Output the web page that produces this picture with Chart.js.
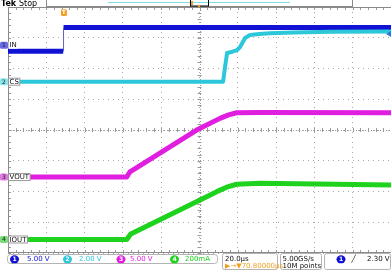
<!DOCTYPE html>
<html>
<head>
<meta charset="utf-8">
<script src="https://cdn.jsdelivr.net/npm/chart.js@4.4.1/dist/chart.umd.min.js"></script>
<style>
  html, body { margin: 0; padding: 0; background: #fff; overflow: hidden; }
</style>
</head>
<body>
<canvas id="scope" width="391" height="271"></canvas>
<script>
// -------- Timebase (µs relative to trigger, 20 µs/div, 10 div) --------
const xMin = -29.2;
const usPerDiv = 20;
const xDivs = 10;
const yDivs = 8;

// -------- Channels --------
const chNames = ['IN', 'CS', 'VOUT', 'IOUT'];
const chColors = ['#1212d4', '#2cc8da', '#e01ee0', '#1ed21e'];
const chScale = [5, 2, 5, 200];          // units per div
const chPos = [2.76, 1.57, -1.53, -3.56]; // ground marker, div from centre
const chReadout = ['5.00 V', '2.00 V', '5.00 V', '200mA'];

// CH1 IN (V)
const inTime = [-29.2, -0.4, -0.2, 170.8];
const inVal = [-1.0, -1.0, 2.85, 2.85];

// CH2 CS (V)
const csTime = [-26.0, 83.1, 84.2, 85.2, 88.0, 90.4, 92.0, 93.5, 94.6, 97.2, 102.0, 107.6, 120.0, 139.0, 170.8];
const csVal = [0, 0, 1.0, 1.87, 1.95, 2.06, 2.26, 2.6, 2.84, 3.04, 3.1, 3.15, 3.2, 3.25, 3.27];

// CH3 VOUT (V)
const voutTime = [-22.0, 32.8, 34.5, 69.3, 81.5, 86.0, 90.2, 102.4, 170.8];
const voutVal = [0, 0, 0.86, 7.64, 9.54, 10.1, 10.45, 10.5, 10.45];

// CH4 IOUT (mA)
const ioutTime = [-22.0, 32.8, 34.9, 71.1, 79.8, 85.0, 90.2, 102.4, 170.8];
const ioutVal = [0, 0, 36, 257, 311, 340, 359, 365, 354];

// -------- Helpers --------
function toDiv(ch, times, vals) {
  return times.map((t, i) => ({ x: t, y: chPos[ch] + vals[i] / chScale[ch] }));
}

const inPts = toDiv(0, inTime, inVal);
const inBand = [inPts[0], inPts[1], { x: inPts[1].x, y: null }, inPts[2], inPts[3]];
const inEdge = [inPts[1], inPts[2]];

const font = '"DejaVu Sans", sans-serif';

function roundRect(ctx, x, y, w, h, r) {
  ctx.beginPath();
  ctx.moveTo(x + r, y);
  ctx.lineTo(x + w - r, y);
  ctx.quadraticCurveTo(x + w, y, x + w, y + r);
  ctx.lineTo(x + w, y + h - r);
  ctx.quadraticCurveTo(x + w, y + h, x + w - r, y + h);
  ctx.lineTo(x + r, y + h);
  ctx.quadraticCurveTo(x, y + h, x, y + h - r);
  ctx.lineTo(x, y + r);
  ctx.quadraticCurveTo(x, y, x + r, y);
  ctx.closePath();
}

// -------- Scope chrome plugin --------
const scopeChrome = {
  id: 'scopeChrome',
  beforeDatasetsDraw(chart) {
    const { ctx, chartArea: a, scales } = chart;
    const cx = scales.x.getPixelForValue(xMin + usPerDiv * xDivs / 2);
    const cy = scales.y.getPixelForValue(0);
    ctx.save();
    ctx.strokeStyle = '#9a9a9a';
    ctx.lineWidth = 1;
    // centre cross with minor ticks
    ctx.setLineDash([1, 2]);
    ctx.beginPath();
    ctx.moveTo(a.left, Math.round(cy) + 0.5); ctx.lineTo(a.right, Math.round(cy) + 0.5);
    ctx.moveTo(Math.round(cx) + 0.5, a.top); ctx.lineTo(Math.round(cx) + 0.5, a.bottom);
    ctx.stroke();
    ctx.setLineDash([]);
    ctx.beginPath();
    for (let i = 0; i <= xDivs * 5; i++) {
      const px = Math.round(scales.x.getPixelForValue(xMin + i * usPerDiv / 5)) + 0.5;
      ctx.moveTo(px, cy - 2); ctx.lineTo(px, cy + 2);
      ctx.moveTo(px, a.top); ctx.lineTo(px, a.top + 3);
      ctx.moveTo(px, a.bottom); ctx.lineTo(px, a.bottom - 3);
    }
    for (let j = 0; j <= yDivs * 5; j++) {
      const py = Math.round(scales.y.getPixelForValue(-4 + j / 5)) + 0.5;
      ctx.moveTo(cx - 2, py); ctx.lineTo(cx + 2, py);
      ctx.moveTo(a.left, py); ctx.lineTo(a.left + 3, py);
    }
    ctx.stroke();
    // frame
    ctx.strokeStyle = '#8a8a8a';
    ctx.beginPath();
    ctx.moveTo(a.right, a.top + 0.5); ctx.lineTo(a.left + 0.5, a.top + 0.5);
    ctx.lineTo(a.left + 0.5, a.bottom - 0.5); ctx.lineTo(a.right, a.bottom - 0.5);
    ctx.stroke();
    ctx.restore();
  },
  afterDatasetsDraw(chart) {
    const { ctx, chartArea: a, scales } = chart;
    ctx.save();
    ctx.textBaseline = 'middle';

    // header
    ctx.fillStyle = '#000';
    ctx.font = 'bold 8px ' + font;
    ctx.fillText('Tek', 1, 3.5);
    ctx.font = '8px ' + font;
    ctx.fillText('Stop', 19, 3.5);
    ctx.strokeStyle = '#8a8a8a';
    ctx.lineWidth = 1;
    ctx.strokeRect(46.5, -0.5, 306, 7);
    ctx.strokeStyle = '#7fe0e8';
    ctx.beginPath(); ctx.moveTo(108, 2.5); ctx.lineTo(290, 2.5); ctx.stroke();
    ctx.strokeStyle = '#000';
    ctx.strokeRect(190.5, -0.5, 18, 6.5);
    ctx.fillStyle = '#f0a020';
    ctx.fillRect(191, 1, 2, 4);
    ctx.fillRect(198, 5, 2, 2);

    // trigger position marker
    const tx = scales.x.getPixelForValue(0);
    ctx.fillStyle = '#f2a024';
    roundRect(ctx, tx - 3, 9, 6, 7, 1.5); ctx.fill();
    ctx.fillStyle = '#fff';
    ctx.font = 'bold 6px ' + font;
    ctx.textAlign = 'center';
    ctx.fillText('T', tx, 12.8);

    // ground markers and names
    const markerFill = ['#6a6ae6', '#8ae4ec', '#e07ae0', '#7ada7a'];
    chNames.forEach((name, ch) => {
      const y = scales.y.getPixelForValue(chPos[ch]);
      ctx.fillStyle = markerFill[ch];
      roundRect(ctx, 0, y - 3.5, 8, 7, 1.5); ctx.fill();
      ctx.fillStyle = '#202020';
      ctx.font = '6px ' + font;
      ctx.textAlign = 'center';
      ctx.fillText(String(ch + 1), 4, y + 0.3);
      ctx.font = '7px ' + font;
      ctx.textAlign = 'left';
      const w = ctx.measureText(name).width;
      ctx.fillStyle = '#fff';
      ctx.fillRect(8.5, y - 3.5, w + 2, 7);
      if (ch >= 1) {
        ctx.strokeStyle = '#9a9a9a';
        ctx.strokeRect(8.5, y - 3.5, w + 2, 7);
      }
      ctx.fillStyle = '#101010';
      ctx.fillText(name, 9.5, y + 0.3);
    });

    // trigger level marker (right edge)
    const ly = scales.y.getPixelForValue(chPos[0] + 2.3 / chScale[0]) + 3;
    ctx.fillStyle = '#2a7ad8';
    ctx.beginPath();
    ctx.moveTo(386, ly); ctx.lineTo(391, ly - 3); ctx.lineTo(391, ly + 3); ctx.closePath();
    ctx.fill();

    // bottom readouts
    ctx.strokeStyle = '#b4b4b4';
    roundRect(ctx, 7.5, 254.5, 210, 9, 3); ctx.stroke();
    roundRect(ctx, 222.5, 253.5, 55, 16, 2); ctx.stroke();
    roundRect(ctx, 280.5, 253.5, 41, 16, 2); ctx.stroke();
    roundRect(ctx, 324.5, 253.5, 66, 16, 2); ctx.stroke();

    const badgeX = [14.5, 67.5, 121, 174.5];
    const textX = [27, 79, 130, 185];
    chReadout.forEach((txt, ch) => {
      ctx.fillStyle = chColors[ch];
      ctx.beginPath(); ctx.ellipse(badgeX[ch], 259.3, 4.5, 4, 0, 0, Math.PI * 2); ctx.fill();
      ctx.fillStyle = '#fff';
      ctx.font = 'bold 6px ' + font;
      ctx.textAlign = 'center';
      ctx.fillText(String(ch + 1), badgeX[ch], 259.6);
      ctx.fillStyle = chColors[ch];
      ctx.font = '7px ' + font;
      ctx.textAlign = 'left';
      ctx.fillText(txt, textX[ch], 259.6);
    });

    ctx.font = '7px ' + font;
    ctx.fillStyle = '#101010';
    ctx.fillText('20.0\u00b5s', 225, 259.6);
    ctx.fillText('5.00GS/s', 282.5, 259.6);
    ctx.fillText('10M points', 282.5, 266.3);
    ctx.fillStyle = '#f0a020';
    ctx.fillText('\u25b6\u2192\u25bc70.80000\u00b5s', 225, 266.3);

    ctx.fillStyle = chColors[0];
    ctx.beginPath(); ctx.ellipse(341, 259.3, 4.5, 4, 0, 0, Math.PI * 2); ctx.fill();
    ctx.fillStyle = '#fff';
    ctx.font = 'bold 6px ' + font;
    ctx.textAlign = 'center';
    ctx.fillText('1', 341, 259.6);
    ctx.fillStyle = '#101010';
    ctx.font = '7px ' + font;
    ctx.fillText('\u2571', 353.5, 259.6);
    ctx.textAlign = 'left';
    ctx.fillText('2.30 V', 367, 259.6);

    ctx.restore();
  }
};

// -------- Chart --------
const ctx = document.getElementById('scope').getContext('2d');

const trace = (data, color, width) => ({
  data: data,
  borderColor: color,
  borderWidth: width,
  pointRadius: 0,
  tension: 0,
  fill: false,
  spanGaps: false,
  borderCapStyle: 'butt',
  borderJoinStyle: 'round'
});

new Chart(ctx, {
  type: 'line',
  data: {
    datasets: [
      trace(toDiv(3, ioutTime, ioutVal), chColors[3], 5),
      trace(toDiv(2, voutTime, voutVal), chColors[2], 5),
      trace(toDiv(1, csTime, csVal), chColors[1], 4),
      trace(inEdge, '#6060c0', 1),
      trace(inBand, chColors[0], 5)
    ]
  },
  options: {
    responsive: false,
    animation: false,
    devicePixelRatio: 1,
    layout: { padding: { left: 8, top: 7, right: 0, bottom: 18 } },
    plugins: { legend: { display: false }, tooltip: { enabled: false } },
    scales: {
      x: {
        type: 'linear',
        min: xMin,
        max: xMin + usPerDiv * xDivs,
        afterBuildTicks: s => {
          s.ticks = Array.from({ length: xDivs + 1 }, (_, i) => ({ value: xMin + i * usPerDiv }));
        },
        ticks: { display: false },
        grid: { color: '#a8a8a8', drawTicks: false, lineWidth: 1 },
        border: { display: false, dash: [1, 4] }
      },
      y: {
        type: 'linear',
        min: -yDivs / 2,
        max: yDivs / 2,
        afterBuildTicks: s => {
          s.ticks = Array.from({ length: yDivs + 1 }, (_, i) => ({ value: -yDivs / 2 + i }));
        },
        ticks: { display: false },
        grid: { color: '#a8a8a8', drawTicks: false, lineWidth: 1 },
        border: { display: false, dash: [1, 4] }
      }
    }
  },
  plugins: [scopeChrome]
});
</script>
</body>
</html>
